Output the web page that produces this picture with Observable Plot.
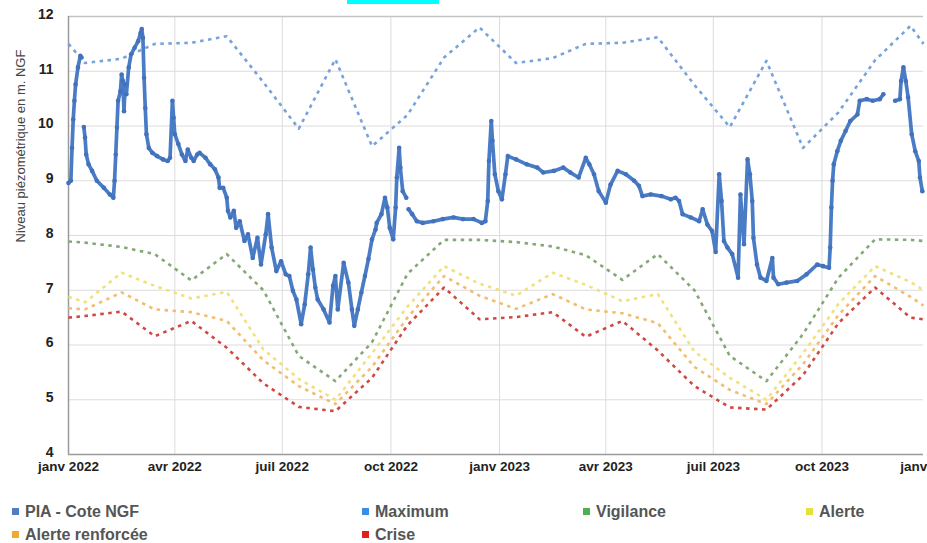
<!DOCTYPE html>
<html><head><meta charset="utf-8">
<script src="https://cdn.jsdelivr.net/npm/d3@7"></script>
<script src="https://cdn.jsdelivr.net/npm/@observablehq/plot@0.6"></script>
<style>
body{margin:0;background:#fff;font-family:"Liberation Sans",Arial,sans-serif;}
#wrap{position:relative;width:927px;height:543px;overflow:hidden;background:#fff;}
#chart{position:absolute;left:0;top:0;}
#cyan{position:absolute;left:347px;top:0;width:92px;height:4px;background:#00ffff;}
.leg{position:absolute;font-weight:bold;font-size:16px;color:#555;white-space:nowrap;line-height:18px;}
.leg i{display:inline-block;width:7px;height:7px;margin-right:6px;vertical-align:middle;position:relative;top:-1px;}
</style></head><body>
<div id="wrap"><div id="chart"></div><div id="cyan"></div><div id="legend"></div></div>
<script>
// ---- PIA - Cote NGF ----
const piaDates = [
"2022-01-01","2022-01-03","2022-01-04","2022-01-05","2022-01-06","2022-01-07","2022-01-09","2022-01-11","2022-01-12",
"2022-01-14","2022-01-15","2022-01-16","2022-01-18","2022-01-21","2022-01-25","2022-01-31","2022-02-05","2022-02-08","2022-02-09",
"2022-02-10","2022-02-11","2022-02-12","2022-02-14","2022-02-15","2022-02-16","2022-02-17","2022-02-18","2022-02-19","2022-02-21",
"2022-02-23","2022-02-26","2022-03-01","2022-03-03","2022-03-04","2022-03-05","2022-03-06","2022-03-07","2022-03-08","2022-03-10",
"2022-03-13","2022-03-17","2022-03-22","2022-03-26","2022-03-28","2022-03-30","2022-03-31","2022-04-01","2022-04-04","2022-04-07",
"2022-04-10","2022-04-12","2022-04-15","2022-04-17","2022-04-20","2022-04-22","2022-04-27","2022-05-01","2022-05-05","2022-05-08",
"2022-05-09","2022-05-12","2022-05-15","2022-05-16","2022-05-18","2022-05-21","2022-05-23","2022-05-26","2022-05-30","2022-06-02",
"2022-06-06","2022-06-10","2022-06-13","2022-06-17","2022-06-19","2022-06-22","2022-06-26","2022-06-30","2022-07-04","2022-07-07",
"2022-07-10","2022-07-13","2022-07-17","2022-07-20","2022-07-23","2022-07-25","2022-07-27","2022-07-29","2022-07-31","2022-08-05",
"2022-08-10","2022-08-13","2022-08-15","2022-08-17","2022-08-22","2022-08-26","2022-08-29","2022-08-31","2022-09-03","2022-09-06",
"2022-09-09","2022-09-12","2022-09-15","2022-09-18","2022-09-19","2022-09-23","2022-09-26","2022-09-28","2022-09-30","2022-10-03",
"2022-10-05","2022-10-06","2022-10-08","2022-10-09","2022-10-11","2022-10-14",
"2022-10-16","2022-10-19","2022-10-23","2022-10-28","2022-11-06","2022-11-14","2022-11-23","2022-12-01","2022-12-10","2022-12-17",
"2022-12-20","2022-12-22","2022-12-23","2022-12-25","2022-12-26","2022-12-28","2022-12-31","2023-01-03","2023-01-06","2023-01-08",
"2023-01-15","2023-01-24","2023-02-02","2023-02-07","2023-02-16","2023-02-24","2023-03-02","2023-03-09","2023-03-15","2023-03-18",
"2023-03-22","2023-03-26","2023-04-01","2023-04-05","2023-04-11","2023-04-18","2023-04-25","2023-04-29","2023-05-02","2023-05-09",
"2023-05-18","2023-05-26","2023-05-30","2023-06-02","2023-06-05","2023-06-12","2023-06-19","2023-06-22","2023-06-26","2023-06-30",
"2023-07-03","2023-07-06","2023-07-08","2023-07-10","2023-07-13","2023-07-17","2023-07-22","2023-07-24","2023-07-27","2023-07-30",
"2023-08-01","2023-08-03","2023-08-04","2023-08-07","2023-08-10","2023-08-15","2023-08-20","2023-08-21","2023-08-25","2023-09-01",
"2023-09-10","2023-09-18","2023-09-27","2023-10-02","2023-10-07","2023-10-08","2023-10-09","2023-10-10","2023-10-11","2023-10-14",
"2023-10-17","2023-10-21","2023-10-25","2023-10-31","2023-11-02","2023-11-08","2023-11-13","2023-11-19","2023-11-22",
"2023-12-02","2023-12-06","2023-12-07","2023-12-09","2023-12-11","2023-12-13","2023-12-16","2023-12-19","2023-12-22","2023-12-23","2023-12-25"
];
const piaValues = [
8.96,9.0,9.6,10.12,10.46,10.76,11.07,11.28,11.25,
9.98,9.79,9.48,9.30,9.18,9.0,8.87,8.75,8.69,9.0,
9.48,9.97,10.46,10.64,10.94,10.82,10.27,10.76,10.58,11.07,
11.31,11.43,11.55,11.70,11.77,11.61,10.88,10.33,9.85,9.60,
9.51,9.45,9.39,9.36,9.42,10.46,10.15,9.85,9.67,9.48,
9.36,9.57,9.42,9.36,9.48,9.51,9.42,9.30,9.21,9.06,
8.87,8.87,8.69,8.45,8.33,8.45,8.14,8.26,7.90,8.02,
7.59,7.96,7.47,8.02,8.39,7.78,7.35,7.53,7.29,7.26,
6.99,6.83,6.38,6.74,7.29,7.78,7.38,7.05,6.83,6.65,
6.41,7.08,7.26,6.65,7.50,7.14,6.65,6.35,6.65,6.96,
7.26,7.57,7.93,8.11,8.23,8.39,8.69,8.51,8.14,7.93,
8.51,9.06,9.60,9.24,8.81,8.69,
8.48,8.39,8.26,8.23,8.26,8.30,8.33,8.30,8.30,8.23,
8.26,8.63,9.36,10.09,9.73,9.12,8.81,8.66,9.12,9.45,
9.39,9.30,9.24,9.15,9.18,9.24,9.15,9.06,9.42,9.30,
9.12,8.81,8.60,8.93,9.18,9.12,9.0,8.91,8.72,8.75,
8.72,8.66,8.69,8.63,8.39,8.33,8.26,8.48,8.20,8.08,
7.70,9.12,8.63,7.90,7.78,7.66,7.23,8.75,7.84,9.39,
9.12,8.63,7.96,7.47,7.23,7.17,7.59,7.23,7.11,7.14,
7.17,7.29,7.47,7.44,7.41,7.78,8.51,9.0,9.30,9.54,
9.73,9.91,10.09,10.21,10.46,10.49,10.46,10.49,10.58,
10.46,10.49,10.82,11.07,10.82,10.52,9.85,9.54,9.36,9.06,8.81
];
// segment number of each point (the series has three interruptions)
const piaSegments = [
0,0,0,0,0,0,0,0,0,
1,1,1,1,1,1,1,1,1,1, 1,1,1,1,1,1,1,1,1,1, 1,1,1,1,1,1,1,1,1,1, 1,1,1,1,1,1,1,1,1,1,
1,1,1,1,1,1,1,1,1,1, 1,1,1,1,1,1,1,1,1,1, 1,1,1,1,1,1,1,1,1,1, 1,1,1,1,1,1,1,1,1,1,
1,1,1,1,1,1,1,1,1,1, 1,1,1,1,1,1,1,1,1,1, 1,1,1,1,1,1,
2,2,2,2,2,2,2,2,2,2, 2,2,2,2,2,2,2,2,2,2, 2,2,2,2,2,2,2,2,2,2, 2,2,2,2,2,2,2,2,2,2,
2,2,2,2,2,2,2,2,2,2, 2,2,2,2,2,2,2,2,2,2, 2,2,2,2,2,2,2,2,2,2, 2,2,2,2,2,2,2,2,2,2,
2,2,2,2,2,2,2,2,2,
3,3,3,3,3,3,3,3,3,3,3
];

// ---- monthly reference levels ----
const thresholdDates = ["2022-01-01","2022-01-15","2022-02-15","2022-03-15","2022-04-15","2022-05-15","2022-06-15","2022-07-15",
"2022-08-15","2022-09-15","2022-10-15","2022-11-15","2022-12-15","2023-01-15","2023-02-15","2023-03-15","2023-04-15","2023-05-15",
"2023-06-15","2023-07-15","2023-08-15","2023-09-15","2023-10-15","2023-11-15","2023-12-15","2023-12-26"];
const maximumValues   = [11.5,11.15,11.23,11.5,11.52,11.64,10.8,9.95,11.22,9.63,10.2,11.25,11.8,11.15,11.24,11.5,11.52,11.62,10.75,9.98,11.19,9.6,10.25,11.2,11.83,11.5];
const vigilanceValues = [7.89,7.87,7.79,7.66,7.18,7.66,7.0,5.8,5.34,6.05,7.3,7.92,7.92,7.88,7.8,7.64,7.19,7.66,7.0,5.8,5.34,6.2,7.23,7.93,7.92,7.9];
const alerteValues    = [6.88,6.78,7.32,7.08,6.85,6.97,5.92,5.38,5.0,5.85,6.7,7.44,7.12,6.9,7.32,7.1,6.8,6.93,5.88,5.4,5.0,5.85,6.75,7.44,7.15,7.0];
const renforceeValues = [6.67,6.65,6.96,6.65,6.6,6.44,5.72,5.25,4.92,5.6,6.5,7.26,6.9,6.66,6.93,6.65,6.58,6.4,5.6,5.18,4.92,5.65,6.55,7.26,6.88,6.72];
const criseValues     = [6.5,6.53,6.61,6.16,6.44,5.95,5.3,4.87,4.79,5.4,6.36,7.05,6.47,6.51,6.6,6.15,6.44,5.9,5.25,4.86,4.82,5.45,6.4,7.05,6.5,6.47];

// ---- axes ----
const xTickDates  = ["2022-01-01","2022-04-01","2022-07-01","2022-10-01","2023-01-01","2023-04-01","2023-07-01","2023-10-01","2024-01-01"];
const xTickLabels = ["janv 2022","avr 2022","juil 2022","oct 2022","janv 2023","avr 2023","juil 2023","oct 2023","janv 2024"];
const yTicks = [4,5,6,7,8,9,10,11,12];
const yLabel = "Niveau piézométrique en m. NGF";
const xDomain = ["2022-01-01","2023-12-26"];

const legendItems = [
  {label:"PIA - Cote NGF", color:"#4f7fbf", left:12, top:503},
  {label:"Maximum", color:"#3b8de0", left:362, top:503},
  {label:"Vigilance", color:"#4caf50", left:583, top:503},
  {label:"Alerte", color:"#e6e03a", left:806, top:503},
  {label:"Alerte renforcée", color:"#f2a833", left:12, top:526},
  {label:"Crise", color:"#e0201c", left:362, top:526}
];

const parse = d3.utcParse("%Y-%m-%d");
const pia = piaDates.map((d,i)=>({date:parse(d), value:piaValues[i], seg:piaSegments[i]}));
const levels = [
  {name:"Maximum", values:maximumValues, color:"#76a3dc"},
  {name:"Vigilance", values:vigilanceValues, color:"#84a977"},
  {name:"Alerte", values:alerteValues, color:"#f3e07c"},
  {name:"Alerte renforcée", values:renforceeValues, color:"#f2bd70"},
  {name:"Crise", values:criseValues, color:"#d04843"}
];
const levelData = levels.flatMap(l => thresholdDates.map((d,i)=>({name:l.name, date:parse(d), value:l.values[i], color:l.color})));
const xTicks = xTickDates.map(parse);

const chart = Plot.plot({
  width: 927, height: 481,
  marginLeft: 68, marginRight: 4, marginTop: 16, marginBottom: 27,
  style: {fontFamily: "'Liberation Sans', Arial, sans-serif", background: "transparent"},
  x: {type: "utc", domain: xDomain.map(parse), axis: null},
  y: {domain: [4, 12], axis: null},
  marks: [
    Plot.gridY(yTicks, {stroke: "#dcdcdc", strokeOpacity: 1}),
    Plot.gridX(xTicks, {stroke: "#dcdcdc", strokeOpacity: 1}),
    Plot.ruleY([12], {stroke: "#c4c4c4", strokeWidth: 1.5}),
    Plot.ruleY([4], {stroke: "#9a9a9a", strokeWidth: 1.5}),
    Plot.ruleX([parse(xDomain[0])], {stroke: "#9a9a9a", strokeWidth: 1.5}),
    Plot.line(levelData, {x: "date", y: "value", z: "name", stroke: "color", strokeWidth: 2.6, strokeDasharray: "3.5,4.5", strokeLinecap: "butt"}),
    Plot.line(pia, {x: "date", y: "value", z: "seg", stroke: "#4a7cc6", strokeWidth: 3.7, strokeLinejoin: "round"}),
    Plot.dot(pia, {x: "date", y: "value", r: 2.3, fill: "#4272bb"}),
    Plot.text(yTicks, {y: d => d, text: d => String(d), frameAnchor: "left", textAnchor: "end", dx: -15, dy: -2, fontSize: 14, fontWeight: "bold", fill: "#222"}),
    Plot.text(xTicks, {x: d => d, text: (d, i) => xTickLabels[i], frameAnchor: "bottom", dy: 16, fontSize: 13.5, fontWeight: "bold", fill: "#222"}),
    Plot.text([yLabel], {frameAnchor: "left", rotate: -90, dx: -48, dy: 7, fontSize: 13, fill: "#444"})
  ]
});
document.getElementById("chart").appendChild(chart);

const leg = document.getElementById("legend");
legendItems.forEach(it => {
  const div = document.createElement("div");
  div.className = "leg";
  div.style.left = it.left + "px";
  div.style.top = it.top + "px";
  const sq = document.createElement("i");
  sq.style.background = it.color;
  div.appendChild(sq);
  div.appendChild(document.createTextNode(it.label));
  leg.appendChild(div);
});
</script>
</body></html>
